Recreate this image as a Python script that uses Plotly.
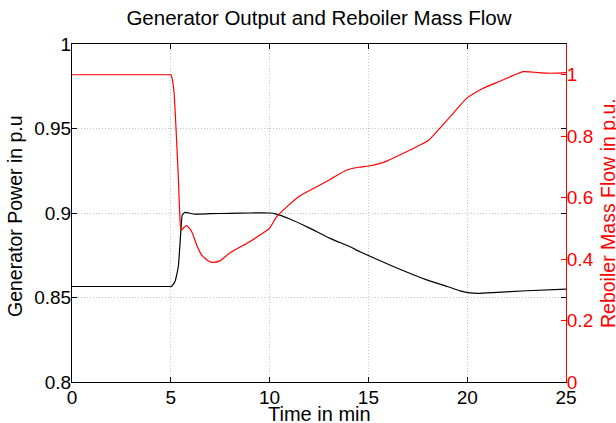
import plotly.graph_objects as go

# Generator output (left axis)
time_gen = [0, 4.9, 5.0, 5.04, 5.21, 5.38, 5.5, 5.58, 5.72, 6.14, 7.0, 8.0, 9.0, 10.0, 10.3,
            11.0, 12.0, 13.06, 14.07, 14.57, 16.26, 17.95, 19.0, 19.64, 20.14, 20.6,
            21.32, 23.01, 25.0]
gen_power = [0.8565, 0.8565, 0.8565, 0.8566, 0.8593, 0.8682, 0.888, 0.8988, 0.9004, 0.8994,
             0.8996, 0.8998, 0.9, 0.9, 0.8995, 0.8966, 0.8912, 0.8850, 0.8800, 0.8771,
             0.8683, 0.8604, 0.8565, 0.8539, 0.8527, 0.8525, 0.8529, 0.8540, 0.8550]

# Reboiler mass flow (right axis)
time_reb = [0, 4.9, 5.0, 5.06, 5.16, 5.26, 5.38, 5.5, 5.55, 5.65, 5.8, 6.06, 6.31, 6.56, 6.9,
            7.15, 7.5, 8.0, 8.84, 9.51, 9.99, 10.36, 10.87, 11.54, 12.55, 13.06, 13.9,
            14.5, 15.0, 15.5, 15.93, 16.8, 17.61, 18.03, 18.62, 19.3, 19.97, 20.81,
            21.66, 22.3, 22.84, 23.4, 24.02, 24.5, 25.0]
reb_flow = [1.0, 1.0, 1.0, 0.99, 0.945, 0.831, 0.668, 0.50, 0.495, 0.502, 0.509, 0.489, 0.446,
            0.413, 0.394, 0.389, 0.395, 0.421, 0.451, 0.478, 0.50, 0.538, 0.570, 0.606,
            0.641, 0.659, 0.690, 0.699, 0.703, 0.710, 0.719, 0.745, 0.771, 0.786, 0.826,
            0.875, 0.923, 0.956, 0.979, 0.997, 1.010, 1.008, 1.005, 1.005, 1.007]

x_ticks = [0, 5, 10, 15, 20, 25]
y_ticks = [0.8, 0.85, 0.9, 0.95, 1.0]
y_ticktext = ["0.8", "0.85", "0.9", "0.95", "1"]
y2_ticks = [0, 0.2, 0.4, 0.6, 0.8, 1.0]
y2_ticktext = ["0", "0.2", "0.4", "0.6", "0.8", "1"]

FONT = "Liberation Sans, Arial, Helvetica, sans-serif"
GRID = "#c4c4c4"

fig = go.Figure()
fig.add_trace(go.Scatter(x=time_gen, y=gen_power, mode="lines",
                         line=dict(color="black", width=1.2, shape="spline", smoothing=0.4),
                         yaxis="y", showlegend=False))
fig.add_trace(go.Scatter(x=time_reb, y=reb_flow, mode="lines",
                         line=dict(color="red", width=1.2, shape="spline", smoothing=0.5),
                         yaxis="y2", showlegend=False))

fig.update_layout(
    width=616, height=423,
    margin=dict(l=72, r=50, t=44, b=41, autoexpand=False),
    paper_bgcolor="white", plot_bgcolor="white",
    font=dict(family=FONT, size=19, color="black"),
    title=dict(text="Generator Output and Reboiler Mass Flow", x=0.5, xref="paper",
               xanchor="center", y=1 - 18 / 423, yref="container", yanchor="middle",
               font=dict(family=FONT, size=20.5, color="black")),
    xaxis=dict(range=[0, 25], tickvals=x_ticks, ticks="inside", ticklen=5,
               tickcolor="black", showline=True, linecolor="black", linewidth=1,
               mirror="ticks", showgrid=True, gridcolor=GRID, griddash="1px,2px",
               gridwidth=1, zeroline=False, automargin=False,
               tickfont=dict(size=19), ticklabelstandoff=-2),
    yaxis=dict(range=[0.8, 1.0], tickvals=y_ticks, ticktext=y_ticktext, ticks="inside",
               ticklen=5, tickcolor="black", showline=True, linecolor="black",
               linewidth=1, mirror="ticks", showgrid=True, gridcolor=GRID,
               griddash="1px,2px", gridwidth=1, zeroline=False, automargin=False,
               tickfont=dict(size=19), ticklabelstandoff=-4),
    yaxis2=dict(range=[0, 1.1], tickvals=y2_ticks, ticktext=y2_ticktext, overlaying="y",
                side="right", ticks="inside", ticklen=5, tickcolor="red",
                showline=True, linecolor="red", linewidth=1, showgrid=False,
                zeroline=False, automargin=False, ticklabelstandoff=-4,
                tickfont=dict(color="red", size=19)),
    annotations=[
        dict(text="Time in min", xref="paper", yref="paper", x=0.5, y=0,
             xanchor="center", yanchor="middle", yshift=-32, showarrow=False,
             font=dict(size=20, color="black")),
        dict(text="Generator Power in p.u", xref="paper", yref="paper", x=0, y=0.5,
             xanchor="center", yanchor="middle", xshift=-57, yshift=-3, textangle=-90,
             showarrow=False, font=dict(size=19.5, color="black")),
        dict(text="Reboiler Mass Flow in p.u.", xref="paper", yref="paper", x=1, y=0.5,
             xanchor="center", yanchor="middle", xshift=42, textangle=-90,
             showarrow=False, font=dict(size=19.5, color="red")),
    ],
)

fig.write_html("out.html", config={"displayModeBar": False},
               post_script="document.body.style.margin='0';")
